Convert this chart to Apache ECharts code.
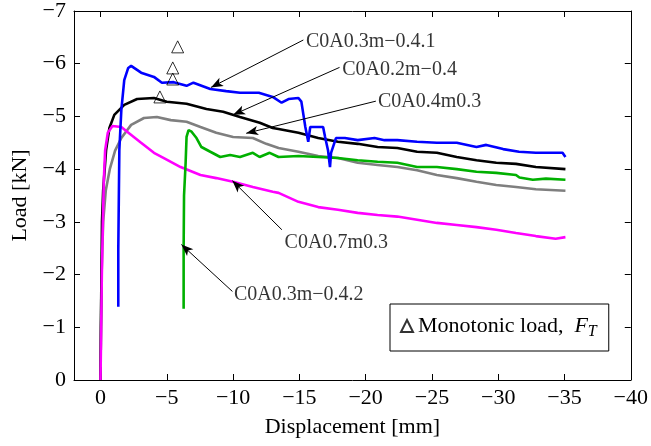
<!DOCTYPE html>
<html>
<head>
<meta charset="utf-8">
<script src="https://cdn.jsdelivr.net/npm/echarts@6/dist/echarts.min.js"></script>
<style>
  html, body { margin: 0; padding: 0; background: #fff; }
  #chart { width: 651px; height: 446px; }
</style>
</head>
<body>
<div id="chart"></div>
<script>
// ==================== 数据 ====================

// C0A0.3m-0.4.1 (blue)
var blueX = [-1.34, -1.34, -1.38, -1.42, -1.57, -1.79, -2.09, -2.31, -3.06, -4.03, -4.63, -5.52, -6.49, -7.01, -8.28, -9.48, -10.52, -11.94, -12.99, -13.66, -14.18, -14.93, -15.15, -15.45, -15.67, -15.82, -16.79, -16.94, -17.16, -17.31, -17.39, -17.76, -18.43, -19.40, -20.67, -21.42, -22.39, -23.88, -25.37, -26.87, -28.36, -29.10, -30.37, -31.57, -32.84, -34.10, -34.85, -35.07];
var blueY = [-1.39, -2.47, -3.42, -4.36, -5.12, -5.69, -5.92, -5.96, -5.83, -5.75, -5.64, -5.65, -5.58, -5.64, -5.52, -5.48, -5.45, -5.45, -5.37, -5.26, -5.33, -5.35, -5.28, -4.80, -4.52, -4.80, -4.80, -4.61, -4.36, -4.04, -4.31, -4.59, -4.59, -4.55, -4.59, -4.55, -4.55, -4.52, -4.50, -4.50, -4.42, -4.46, -4.38, -4.33, -4.31, -4.31, -4.31, -4.23];

// C0A0.2m-0.4 (black)
var blackX = [0, -0.03, -0.07, -0.11, -0.2, -0.42, -0.67, -1.04, -1.79, -2.76, -4.03, -5.0, -6.49, -7.99, -9.25, -10.52, -12.01, -12.99, -13.43, -14.93, -16.42, -17.91, -19.40, -20.90, -22.39, -23.88, -25.37, -26.87, -28.36, -29.85, -31.34, -32.84, -35.07];
var blackY = [0, -1.0, -2.0, -3.0, -3.6, -4.36, -4.78, -5.03, -5.22, -5.33, -5.35, -5.28, -5.24, -5.14, -5.09, -4.99, -4.88, -4.78, -4.76, -4.69, -4.59, -4.52, -4.48, -4.42, -4.40, -4.33, -4.31, -4.23, -4.17, -4.12, -4.10, -4.04, -4.00];

// C0A0.4m0.3 (gray)
var grayX = [0, -0.03, -0.08, -0.2, -0.4, -0.7, -1.1, -1.57, -2.31, -3.28, -4.25, -5.3, -6.49, -7.54, -8.73, -10.0, -11.49, -12.5, -13.43, -14.93, -16.42, -17.91, -19.40, -20.90, -22.39, -23.88, -25.37, -26.87, -28.36, -29.85, -31.34, -32.84, -35.07];
var grayY = [0, -1.0, -2.0, -3.0, -3.6, -4.0, -4.35, -4.59, -4.84, -4.97, -4.99, -4.93, -4.90, -4.80, -4.69, -4.61, -4.59, -4.48, -4.40, -4.33, -4.25, -4.21, -4.12, -4.08, -4.04, -3.98, -3.89, -3.83, -3.76, -3.70, -3.66, -3.62, -3.59];

// C0A0.3m-0.4.2 (green)
var greenX = [-6.27, -6.27, -6.30, -6.42, -6.49, -6.64, -6.87, -7.24, -7.61, -8.28, -9.03, -9.78, -10.52, -11.49, -12.0, -12.76, -13.43, -14.93, -16.42, -17.91, -19.40, -20.90, -22.39, -23.88, -25.37, -26.87, -28.36, -29.85, -31.34, -31.6, -32.61, -33.6, -35.07];
var greenY = [-1.35, -2.5, -3.5, -4.12, -4.61, -4.74, -4.71, -4.59, -4.42, -4.33, -4.23, -4.27, -4.23, -4.31, -4.23, -4.31, -4.23, -4.25, -4.23, -4.21, -4.17, -4.14, -4.12, -4.04, -4.04, -4.00, -3.95, -3.93, -3.89, -3.84, -3.80, -3.82, -3.80];

// C0A0.7m0.3 (magenta)
var magentaX = [0, -0.05, -0.1, -0.18, -0.25, -0.35, -0.55, -0.9, -1.57, -2.01, -3.06, -4.03, -4.78, -6.04, -7.54, -8.73, -10.0, -11.49, -12.99, -13.43, -14.93, -16.42, -17.91, -19.40, -20.90, -22.39, -23.88, -25.37, -26.87, -28.36, -29.85, -31.34, -32.84, -34.33, -35.07];
var magentaY = [0, -1.0, -2.0, -3.0, -3.8, -4.36, -4.69, -4.82, -4.80, -4.71, -4.50, -4.31, -4.21, -4.04, -3.89, -3.83, -3.76, -3.66, -3.57, -3.55, -3.38, -3.28, -3.23, -3.17, -3.13, -3.10, -3.04, -2.98, -2.94, -2.90, -2.85, -2.79, -2.73, -2.68, -2.71];

// Monotonic load, F_T (triangles)
var monoX = [-5.82, -5.45, -5.45, -4.48];
var monoY = [-6.32, -5.92, -5.71, -5.37];

// 标注
var annoText = ['C0A0.3m\u22120.4.1', 'C0A0.2m\u22120.4', 'C0A0.4m0.3', 'C0A0.7m0.3', 'C0A0.3m\u22120.4.2'];
var annoTextX = [-15.42, -18.16, -20.85, -13.81, -9.99];
var annoTextY = [-6.42, -5.89, -5.27, -2.61, -1.61];
var annoFromX = [-15.3, -18.03, -20.77, -13.68, -9.95];
var annoFromY = [-6.45, -5.93, -5.29, -2.85, -1.68];
var annoToX = [-8.33, -10.0, -10.99, -9.95, -6.10];
var annoToY = [-5.55, -5.03, -4.68, -3.78, -2.57];

// ==================== 配置 ====================

var FONT = '"Liberation Serif", "DejaVu Serif", serif';

function zip(xs, ys) {
  return xs.map(function (x, i) { return [x, ys[i]]; });
}

function fmtMinus(v) {
  if (v > 0) return '';
  if (v < 0) return '\u2212' + Math.abs(v);
  return '0';
}

function curve(name, xs, ys, color) {
  return {
    name: name,
    type: 'line',
    data: zip(xs, ys),
    showSymbol: false,
    symbol: 'none',
    lineStyle: { color: color, width: 2.6 },
    itemStyle: { color: color },
    z: 3
  };
}

var axisLine = { show: true, onZero: false, lineStyle: { color: '#000', width: 1 } };
var axisTick = { show: true, inside: true, length: 6, lineStyle: { color: '#000' } };

var annoLines = annoText.map(function (t, i) {
  return [
    { coord: [annoFromX[i], annoFromY[i]], symbol: 'none' },
    { coord: [annoToX[i], annoToY[i]], symbol: 'arrow', symbolSize: [7, 12] }
  ];
});

var annoLabels = annoText.map(function (t, i) {
  return { value: [annoTextX[i], annoTextY[i]], name: t };
});

var option = {
  animation: false,
  backgroundColor: '#fff',
  textStyle: { fontFamily: FONT },
  grid: { left: 74, right: 14, top: 11, bottom: 66, containLabel: false },
  legend: {
    data: ['Monotonic load'],
    left: 390,
    top: 304,
    orient: 'vertical',
    padding: [11, 12, 11, 10],
    borderColor: '#000',
    borderWidth: 1,
    borderRadius: 0,
    backgroundColor: '#fff',
    itemWidth: 12,
    itemHeight: 12,
    itemGap: 0,
    formatter: function () { return 'Monotonic load,  {i|F}{s|T}'; },
    textStyle: {
      fontFamily: FONT,
      fontSize: 22,
      color: '#000',
      rich: {
        i: { fontFamily: FONT, fontSize: 22, fontStyle: 'italic', color: '#000' },
        s: { fontFamily: FONT, fontSize: 16, fontStyle: 'italic', color: '#000', padding: [12, 0, 0, 0] }
      }
    }
  },
  xAxis: [
    {
      type: 'value', position: 'bottom', min: -40, max: 2, interval: 5, inverse: true,
      name: 'Displacement [mm]', nameLocation: 'middle', nameGap: 36,
      nameTextStyle: { fontFamily: FONT, fontSize: 22, color: '#000' },
      axisLine: axisLine, axisTick: axisTick, splitLine: { show: false },
      axisLabel: { fontFamily: FONT, fontSize: 22, color: '#000', margin: 7, formatter: fmtMinus }
    },
    {
      type: 'value', position: 'top', min: -40, max: 2, interval: 5, inverse: true,
      axisLine: axisLine, axisTick: axisTick, splitLine: { show: false },
      axisLabel: { show: false }
    }
  ],
  yAxis: [
    {
      type: 'value', position: 'left', min: -7, max: 0, interval: 1, inverse: true,
      name: 'Load [kN]', nameLocation: 'middle', nameGap: 37,
      nameTextStyle: { fontFamily: FONT, fontSize: 22, color: '#000' },
      axisLine: axisLine, axisTick: axisTick, splitLine: { show: false },
      axisLabel: { fontFamily: FONT, fontSize: 22, color: '#000', margin: 8, formatter: fmtMinus }
    },
    {
      type: 'value', position: 'right', min: -7, max: 0, interval: 1, inverse: true,
      axisLine: axisLine, axisTick: axisTick, splitLine: { show: false },
      axisLabel: { show: false }
    }
  ],
  series: [
    curve('C0A0.4m0.3', grayX, grayY, '#7f7f7f'),
    curve('C0A0.2m-0.4', blackX, blackY, '#000000'),
    curve('C0A0.7m0.3', magentaX, magentaY, '#ff00ff'),
    curve('C0A0.3m-0.4.2', greenX, greenY, '#00b000'),
    curve('C0A0.3m-0.4.1', blueX, blueY, '#0000ff'),
    {
      name: 'Monotonic load',
      type: 'scatter',
      data: zip(monoX, monoY),
      symbol: 'triangle',
      symbolSize: 12,
      itemStyle: { color: 'rgba(255,255,255,0)', borderColor: '#000', borderWidth: 1 },
      z: 5
    },
    {
      name: 'arrows',
      type: 'line',
      data: [],
      markLine: {
        silent: true,
        animation: false,
        label: { show: false },
        lineStyle: { color: '#000', width: 1, type: 'solid' },
        emphasis: { disabled: true },
        data: annoLines
      },
      z: 6
    },
    {
      name: 'labels',
      type: 'scatter',
      data: annoLabels,
      symbolSize: 0,
      silent: true,
      label: {
        show: true,
        position: 'right',
        distance: 1,
        fontFamily: FONT,
        fontSize: 20,
        color: '#000',
        formatter: function (p) { return p.name; }
      },
      z: 6
    }
  ]
};

var chart = echarts.init(document.getElementById('chart'));
chart.setOption(option);
</script>
</body>
</html>
